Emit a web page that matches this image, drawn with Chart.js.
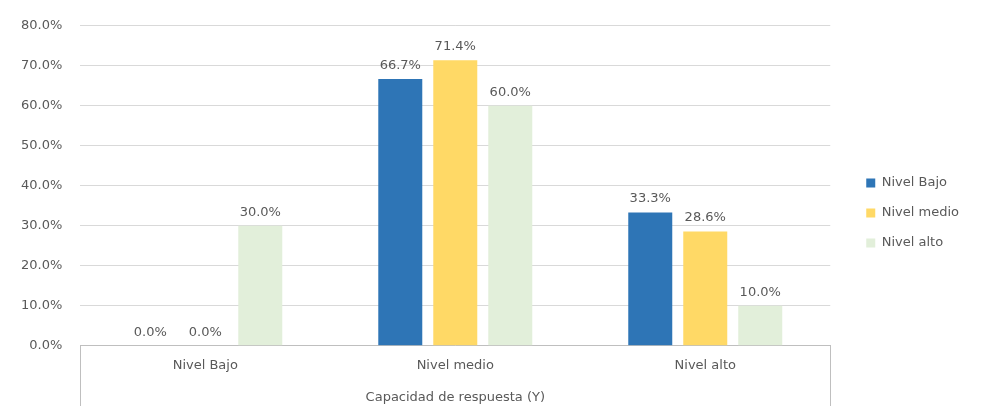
<!DOCTYPE html>
<html>
<head>
<meta charset="utf-8">
<script src="https://cdn.jsdelivr.net/npm/chart.js@4.4.0/dist/chart.umd.min.js"></script>
<style>
html,body{margin:0;padding:0;background:#fff;}
#wrap{width:984px;height:406px;position:relative;}
</style>
</head>
<body>
<div id="wrap"><canvas id="c" width="984" height="406"></canvas></div>
<script>
const categories = ["Nivel Bajo", "Nivel medio", "Nivel alto"];
const seriesNames = ["Nivel Bajo", "Nivel medio", "Nivel alto"];
const nivelBajo = [0.0, 66.7, 33.3];
const nivelMedio = [0.0, 71.4, 28.6];
const nivelAlto = [30.0, 60.0, 10.0];
const colors = ["#2e75b6", "#ffd966", "#e2efda"];
const xTitle = "Capacidad de respuesta (Y)";
const yMax = 80;
const yStep = 10;

const FONT = "'DejaVu Sans', sans-serif";
const TXT = "#595959";
const FS = 13;

const valueLabels = {
  id: 'valueLabels',
  afterDatasetsDraw(chart) {
    const ctx = chart.ctx;
    ctx.save();
    ctx.font = FS + "px " + FONT;
    ctx.fillStyle = TXT;
    ctx.textAlign = 'center';
    ctx.textBaseline = 'bottom';
    chart.data.datasets.forEach((ds, i) => {
      const meta = chart.getDatasetMeta(i);
      meta.data.forEach((bar, j) => {
        ctx.fillText(ds.data[j].toFixed(1) + '%', bar.x, bar.y - 7);
      });
    });
    ctx.restore();
  }
};

const boxLines = {
  id: 'boxLines',
  afterDraw(chart) {
    const {ctx, chartArea} = chart;
    ctx.save();
    ctx.strokeStyle = "#bfbfbf";
    ctx.lineWidth = 1;
    ctx.beginPath();
    const l = Math.round(chartArea.left) + 0.5, r = Math.round(chartArea.right) + 0.5;
    ctx.moveTo(l, chartArea.bottom); ctx.lineTo(l, chart.height);
    ctx.moveTo(r, chartArea.bottom); ctx.lineTo(r, chart.height);
    ctx.stroke();
    ctx.restore();
  }
};

new Chart(document.getElementById('c'), {
  type: 'bar',
  data: {
    labels: categories,
    datasets: [
      {label: seriesNames[0], data: nivelBajo, backgroundColor: colors[0]},
      {label: seriesNames[1], data: nivelMedio, backgroundColor: colors[1]},
      {label: seriesNames[2], data: nivelAlto, backgroundColor: colors[2]}
    ]
  },
  options: {
    responsive: false,
    animation: false,
    events: [],
    datasets: {bar: {categoryPercentage: 0.66, barPercentage: 0.8}},
    layout: {padding: {top: 20, right: 15, left: 3, bottom: 0}},
    plugins: {
      tooltip: {enabled: false},
      legend: {
        position: 'right',
        align: 'center',
        labels: {
          boxWidth: 9, boxHeight: 9, padding: 17,
          color: TXT, font: {family: FONT, size: FS}
        }
      }
    },
    scales: {
      x: {
        grid: {display: false},
        border: {display: true, color: '#bfbfbf'},
        ticks: {color: TXT, font: {family: FONT, size: FS}, padding: 4},
        title: {display: true, text: xTitle, color: TXT, font: {family: FONT, size: FS}, padding: {top: 12, bottom: 1}}
      },
      y: {
        min: 0, max: yMax,
        grid: {color: '#d9d9d9', drawTicks: false},
        border: {display: false},
        ticks: {stepSize: yStep, color: TXT, font: {family: FONT, size: FS}, padding: 18,
          callback: v => v.toFixed(1) + '%'}
      },
      gap: {
        type: 'linear',
        position: 'right',
        display: true,
        grid: {display: false},
        border: {display: false},
        ticks: {display: false},
        afterFit: s => { s.width = 19; }
      }
    }
  },
  plugins: [valueLabels, boxLines]
});
</script>
</body>
</html>
